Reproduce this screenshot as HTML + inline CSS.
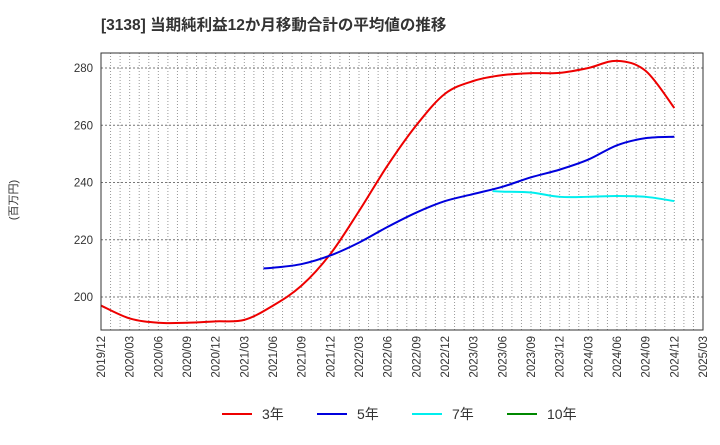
<!DOCTYPE html>
<html><head><meta charset="utf-8"><style>
body{margin:0;background:#fff;}
svg text{font-family:"Liberation Sans","Noto Sans CJK JP",sans-serif;}
</style></head><body>
<svg id="chart" width="720" height="440" xmlns="http://www.w3.org/2000/svg">
<text x="101" y="30" font-size="15.5" font-weight="bold" fill="#333">[3138]  当期純利益12か月移動合計の平均値の推移</text>
<text x="17" y="200" font-size="11" fill="#333" transform="rotate(-90 17 200)" text-anchor="middle">(百万円)</text>
<g id="grid"></g><g id="series"></g><g id="axes"></g>
<g>
<line x1="222" y1="414" x2="252" y2="414" stroke="#e00" stroke-width="2"/><text x="262" y="419" font-size="14" fill="#333">3年</text>
<line x1="317" y1="414" x2="347" y2="414" stroke="#00d" stroke-width="2"/><text x="357" y="419" font-size="14" fill="#333">5年</text>
<line x1="412" y1="414" x2="442" y2="414" stroke="#0ee" stroke-width="2"/><text x="452" y="419" font-size="14" fill="#333">7年</text>
<line x1="507" y1="414" x2="537" y2="414" stroke="#080" stroke-width="2"/><text x="547" y="419" font-size="14" fill="#333">10年</text>
</g>
</svg>
<script>
const xTickLabels=["2019/12","2020/03","2020/06","2020/09","2020/12","2021/03","2021/06","2021/09","2021/12","2022/03","2022/06","2022/09","2022/12","2023/03","2023/06","2023/09","2023/12","2024/03","2024/06","2024/09","2024/12","2025/03"];
const yTicks=[200,220,240,260,280];
// months offset from 2019/12
const m3=[0,3,6,9,12,15,18,21,24,27,30,33,36,39,42,45,48,51,54,57,60];
const v3=[197,192.5,191,191,191.5,192,197,204,215,230,246,260,271,275.5,277.5,278.2,278.3,280,282.5,279,266];
const m5=[17,18,21,24,27,30,33,36,39,42,45,48,51,54,57,60];
const v5=[210,210.2,211.5,214.5,219,224.5,229.5,233.5,236,238.5,241.8,244.5,248,253,255.5,256];
const m7=[41,42,45,48,51,54,57,60];
const v7=[237,236.8,236.5,235,235,235.3,235,233.5];
const L=101,R=703,T=53,B=330,NS="http://www.w3.org/2000/svg";
const xS=m=>L+m*(R-L)/63;
const yS=v=>297-(v-200)*57.25/20;
function mk(t,a,p){const e=document.createElementNS(NS,t);for(const k in a)e.setAttribute(k,a[k]);p.appendChild(e);return e;}
const grid=document.getElementById('grid'),axes=document.getElementById('axes'),ser=document.getElementById('series');
for(let m=1;m<63;m++){const l=mk('line',{x1:xS(m),x2:xS(m),y1:T,y2:B,stroke:'#999','stroke-width':1,'stroke-dasharray':'1,2'},grid);

}
yTicks.forEach(v=>{const l=mk('line',{x1:L,x2:R,y1:yS(v),y2:yS(v),stroke:'#777','stroke-width':1,'stroke-dasharray':'2,2'},grid);


const t=mk('text',{x:L-8,y:yS(v)+4,'text-anchor':'end','font-size':11.5,fill:'#333'},axes);t.textContent=v;

});
xTickLabels.forEach((s,i)=>{const x=xS(i*3),y=B+6;const t=mk('text',{x:x+4,y:y,'text-anchor':'end','font-size':11.5,fill:'#333',transform:`rotate(-90 ${x+4} ${y})`},axes);t.textContent=s;

});
const fr=mk('rect',{x:L,y:T,width:R-L,height:B-T,fill:'none',stroke:'#333','stroke-width':1},axes);


function path(ms,vs){const p=ms.map((m,i)=>[xS(m),yS(vs[i])]);let d=`M${p[0][0]},${p[0][1]}`;
for(let i=0;i<p.length-1;i++){const p0=p[i-1]||p[i],p1=p[i],p2=p[i+1],p3=p[i+2]||p2;
d+=` C${p1[0]+(p2[0]-p0[0])/6},${p1[1]+(p2[1]-p0[1])/6} ${p2[0]-(p3[0]-p1[0])/6},${p2[1]-(p3[1]-p1[1])/6} ${p2[0]},${p2[1]}`;}return d;}
[[m3,v3,'#e00','series-3y'],[m5,v5,'#00d','series-5y'],[m7,v7,'#0ee','series-7y']].forEach(([m,v,c,n])=>{
const e=mk('path',{d:path(m,v),fill:'none',stroke:c,'stroke-width':2},ser);

});
</script>
</body></html>
